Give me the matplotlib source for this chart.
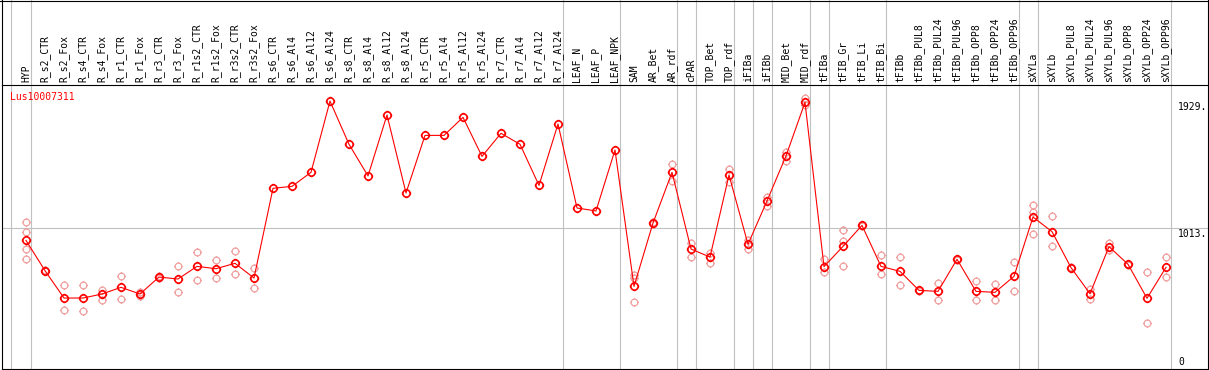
import matplotlib
matplotlib.use("Agg")
import matplotlib.pyplot as plt
from matplotlib.path import Path
from matplotlib.lines import Line2D
from matplotlib.transforms import blended_transform_factory
import numpy as np

gene = "Lus10007311"

categories = ["HYP", "R_s2_CTR", "R_s2_Fox", "R_s4_CTR", "R_s4_Fox", "R_r1_CTR", "R_r1_Fox",
              "R_r3_CTR", "R_r3_Fox", "R_r1s2_CTR", "R_r1s2_Fox", "R_r3s2_CTR", "R_r3s2_Fox",
              "R_s6_CTR", "R_s6_Al4", "R_s6_Al12", "R_s6_Al24", "R_s8_CTR", "R_s8_Al4",
              "R_s8_Al12", "R_s8_Al24", "R_r5_CTR", "R_r5_Al4", "R_r5_Al12", "R_r5_Al24",
              "R_r7_CTR", "R_r7_Al4", "R_r7_Al12", "R_r7_Al24", "LEAF_N", "LEAF_P", "LEAF_NPK",
              "SAM", "AR_Bet", "AR_rdf", "cPAR", "TOP_Bet", "TOP_rdf", "iFIBa", "iFIBb",
              "MID_Bet", "MID_rdf", "tFIBa", "tFIB_Gr", "tFIB_Li", "tFIB_Bi", "tFIBb",
              "tFIBb_PUL8", "tFIBb_PUL24", "tFIBb_PUL96", "tFIBb_OPP8", "tFIBb_OPP24",
              "tFIBb_OPP96", "sXYLa", "sXYLb", "sXYLb_PUL8", "sXYLb_PUL24", "sXYLb_PUL96",
              "sXYLb_OPP8", "sXYLb_OPP24", "sXYLb_OPP96"]

means = [926, 708, 511, 511, 540, 588, 540, 662, 648, 739, 722, 761, 655,
         1301, 1315, 1416, 1929, 1618, 1390, 1829, 1267,
         1682, 1682, 1812, 1531, 1697, 1618, 1322, 1764,
         1159, 1138, 1577,
         595, 1051, 1416, 864, 806, 1397, 898, 1210, 1534, 1920,
         737, 883, 1034, 739, 703, 566, 559, 790, 559, 552, 667,
         1094, 989, 730, 542, 881, 754, 509, 732]

replicates = [[1058, 986, 864, 792], [712, 704], [603, 423], [603, 415], [571, 499],
              [667, 502], [557, 523], [666, 658], [739, 552], [842, 641], [783, 653],
              [850, 682], [727, 581],
              [], [], [], [], [], [], [], [], [], [], [], [], [], [], [], [], [], [], [],
              [677, 653, 480], [1055, 1047], [1476, 1356], [907, 809], [837, 765],
              [1440, 1344], [929, 864], [1238, 1176], [1565, 1500], [1949, 1901],
              [792, 701], [999, 922, 739], [1038, 1030], [819, 682], [806, 602],
              [570, 562], [617, 494], [794, 786], [631, 494], [610, 494], [768, 559],
              [1178, 1133, 970], [1102, 886], [734, 726], [574, 506], [909, 857],
              [758, 750], [696, 331], [806, 660]]

# group separators: positioned just after these category indices
separator_after = [0, 28, 31, 34, 35, 37, 38, 39, 41, 42, 45, 52, 53, 60]

axis_labels = ["1929.", "1013.", "0"]
axis_values = [1929, 1013, 0]

W, H = 1209, 370
fig = plt.figure(figsize=(W / 100, H / 100), dpi=100)
fig.patch.set_facecolor("white")

ax_left, ax_right, ax_bottom, ax_top = 1.5, 1208.0, 1.0, 285.0  # pixels from left / bottom
ax = fig.add_axes([ax_left / W, ax_bottom / H, (ax_right - ax_left) / W, (ax_top - ax_bottom) / H])
step = 19.0
x0px = 26.0
xmin = -(x0px - ax_left) / step
xmax = xmin + (ax_right - ax_left) / step
ax.set_xlim(xmin, xmax)
ppu = 0.138889
ax.set_ylim(0, (ax_top - ax_bottom) / ppu)
ax.set_xticks([])
ax.set_yticks([])
for s in ax.spines.values():
    s.set_linewidth(0.8)
    s.set_color("black")

mono = "DejaVu Sans Mono"
fs = 7

# marker: polygonal circle with four short outward ticks
th = np.linspace(0, 2 * np.pi, 33)
circ_verts = list(zip(np.cos(th), np.sin(th)))
circ_codes = [Path.MOVETO] + [Path.LINETO] * 31 + [Path.CLOSEPOLY]
r1, r2 = 1.0, 1.3
tick_verts = [(0, r1), (0, r2), (0, -r1), (0, -r2), (r1, 0), (r2, 0), (-r1, 0), (-r2, 0)]
tick_codes = [Path.MOVETO, Path.LINETO] * 4
marker_path = Path(circ_verts + tick_verts, circ_codes + tick_codes)

xs = np.arange(len(categories))

# gray separators spanning header too
ymax_frac = (H - ax_bottom) / (ax_top - ax_bottom) + 0.01
first_sep = -0.8
for xv in [first_sep] + [i + 0.24 for i in separator_after]:
    ax.axvline(xv, ymin=0, ymax=ymax_frac, color="#c0c0c0", lw=0.8, clip_on=False, zorder=1)

ax.axhline(1013, color="#c0c0c0", lw=0.8, zorder=1)

# replicates
rx, ry = [], []
for i, reps in enumerate(replicates):
    for v in reps:
        rx.append(i)
        ry.append(v)
ax.plot(rx, ry, linestyle="none", marker=marker_path, markersize=6.3,
        markerfacecolor="none", markeredgecolor="#f0a0a0", markeredgewidth=0.9, zorder=2)

# means
ax.plot(xs, means, color="red", lw=0.8, zorder=3)
ax.plot(xs, means, linestyle="none", marker=marker_path, markersize=6.8,
        markerfacecolor="none", markeredgecolor="red", markeredgewidth=1.2, zorder=4)

# header labels
trans = blended_transform_factory(ax.transData, fig.transFigure)
for i, lab in enumerate(categories):
    ax.text(i, (H - 82.5) / H, lab, rotation=90, ha="center", va="bottom",
            family=mono, fontsize=fs, color="black", transform=trans, clip_on=False)

# gene name
ax.text((10 - x0px) / step, (H - ax_bottom - 97.3) / ppu, gene, ha="left", va="center",
        family=mono, fontsize=fs, color="red")

# right axis labels
xr = (1178 - x0px) / step
for lab, v in zip(axis_labels, axis_values):
    if v == 0:
        ax.text(xr, v + 12, lab, ha="left", va="bottom", family=mono, fontsize=fs, color="black")
    else:
        ax.text(xr, v - 5, lab, ha="left", va="top", family=mono, fontsize=fs, color="black")

# figure border lines (header region)
lw = 0.8
fig.add_artist(Line2D([0, 1], [1 - 0.5 / H, 1 - 0.5 / H], transform=fig.transFigure, color="black", lw=lw))
fig.add_artist(Line2D([ax_left / W, ax_left / W], [ax_top / H, 1], transform=fig.transFigure, color="black", lw=lw))
fig.add_artist(Line2D([ax_right / W, ax_right / W], [ax_top / H, 1], transform=fig.transFigure, color="black", lw=lw))

fig.savefig("out.png", dpi=100, facecolor="white")
